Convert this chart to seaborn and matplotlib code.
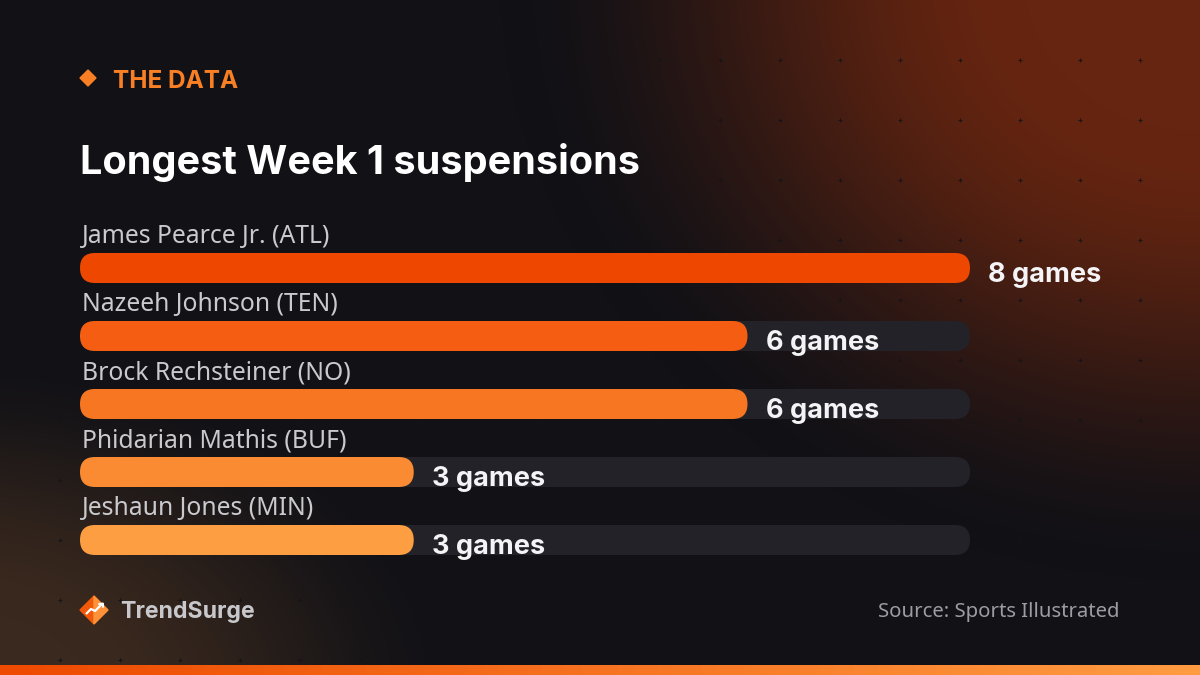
import numpy as np
import pandas as pd
import matplotlib
matplotlib.use("Agg")
import matplotlib.pyplot as plt
import seaborn as sns
from matplotlib.patches import FancyBboxPatch, Polygon

# data
players = ["James Pearce Jr. (ATL)", "Nazeeh Johnson (TEN)", "Brock Rechsteiner (NO)",
           "Phidarian Mathis (BUF)", "Jeshaun Jones (MIN)"]
games = [8, 6, 6, 3, 3]
value_labels = ["8 games", "6 games", "6 games", "3 games", "3 games"]
bar_colors = ["#EE4700", "#F55E12", "#F77622", "#FA8B32", "#FD9E42"]
max_games = 8

title = "Longest Week 1 suspensions"
kicker = "THE DATA"
brand = "TrendSurge"
source = "Source: Sports Illustrated"

W, H = 1200, 675
sns.set_theme(style="white")
plt.rcParams["font.family"] = ["Noto Sans", "DejaVu Sans"]
BOLD = ["Inter", "DejaVu Sans"]

fig = plt.figure(figsize=(W / 100, H / 100), dpi=100)


def smooth(t):
    t = np.clip(t, 0, 1)
    return t * t * (3 - 2 * t)


# background
bg = fig.add_axes([0, 0, 1, 1])
yy, xx = np.mgrid[0:H, 0:W]
base = np.array([0x11, 0x11, 0x16]) / 255
glow = np.array([0x66, 0x25, 0x10]) / 255
warm = np.array([0x3A, 0x29, 0x1E]) / 255
d1 = np.sqrt(((xx - 1200) / 700.0) ** 2 + ((yy + 20) / 600.0) ** 2)
w1 = smooth((1.0 - d1) / 0.75)
d2 = np.sqrt(((xx + 40) / 520.0) ** 2 + ((yy - 700) / 360.0) ** 2)
w2 = smooth((1.0 - d2) / 0.75)
img = base[None, None, :] * np.ones((H, W, 1))
img = img + (glow - base)[None, None, :] * w1[..., None]
img = img + (warm - base)[None, None, :] * w2[..., None]
img = np.clip(img, 0, 1)
bg.imshow(img, extent=[0, W, H, 0], aspect="auto", zorder=0)
gx, gy = np.meshgrid(np.arange(60, W, 60), np.arange(60, H, 60))
bg.scatter(gx.ravel(), gy.ravel(), marker="+", s=12, linewidths=0.8,
           color="#141418", alpha=0.9, zorder=1)
# bottom accent strip
strip = np.linspace(0, 1, W)
c0 = np.array([0xEE, 0x4A, 0x00]) / 255
c1 = np.array([0xFF, 0x9C, 0x42]) / 255
strip_img = (c0[None, :] * (1 - strip[:, None]) + c1[None, :] * strip[:, None])[None, :, :]
bg.imshow(strip_img, extent=[0, W, H, H - 10], aspect="auto", zorder=2)
# kicker diamond
bg.add_patch(Polygon([[88, 70], [96, 78], [88, 86], [80, 78]], closed=True,
                     color="#F97F24", zorder=3))
# logo
bg.add_patch(Polygon([[94, 596], [80, 610], [94, 624]], closed=True, color="#F0580A", zorder=3))
bg.add_patch(Polygon([[94, 596], [108, 610], [94, 624]], closed=True, color="#FF9238", zorder=3))
bg.plot([86, 91, 95, 102], [614, 609, 611, 604], color="white", lw=1.6, zorder=4,
        solid_capstyle="butt")
bg.plot([99, 103, 103], [604, 603.5, 607], color="white", lw=1.4, zorder=4)
bg.set_xlim(0, W)
bg.set_ylim(H, 0)
bg.axis("off")

# bar axes: 80..970 px wide, rows every 68 px
row = 68
top_px = 268 - row / 2
bot_px = 540 + row / 2
ax = fig.add_axes([80 / W, (H - bot_px) / H, 890 / W, (bot_px - top_px) / H])
ax.patch.set_alpha(0)

df = pd.DataFrame({"player": players, "games": games})
bar_h = 30 / row
sns.barplot(data=df, y="player", x=[max_games] * len(players), orient="h",
            color="#222228", width=bar_h, ax=ax, saturation=1)
sns.barplot(data=df, y="player", x="games", hue="player", palette=bar_colors,
            orient="h", width=bar_h, ax=ax, saturation=1, legend=False)
ax.set_xlim(0, max_games)
ax.set_ylim(len(players) - 0.5, -0.5)

sx = 890 / max_games
r = 15 / sx
aspect = sx / row
for p in list(ax.patches):
    x0, y0 = p.get_x(), p.get_y()
    w, h = p.get_width(), p.get_height()
    fc = p.get_facecolor()
    z = p.get_zorder()
    p.remove()
    ax.add_patch(FancyBboxPatch((x0, y0), w, h,
                                boxstyle=f"round,pad=0,rounding_size={r}",
                                mutation_aspect=aspect, facecolor=fc,
                                edgecolor="none", zorder=z))

for i, (name, v, lab) in enumerate(zip(players, games, value_labels)):
    ax.text(0.02, i - 0.46, name, color="#C9C9CE", fontsize=17.8,
            va="center", ha="left", clip_on=False)
    ax.text(v + 18 / sx, i + 0.1, lab, color="#F4F4F6", fontsize=19.5,
            fontweight="bold", family=BOLD, va="center", ha="left", clip_on=False)

ax.set_xlabel("")
ax.set_ylabel("")
ax.set_xticks([])
ax.set_yticks([])
sns.despine(ax=ax, left=True, bottom=True)

# texts
fig.text(113 / W, 1 - 81 / H, kicker, color="#F97F24", fontsize=17.5,
         fontweight="bold", family=BOLD, va="center", ha="left")
fig.text(80 / W, 1 - 162 / H, title, color="white", fontsize=28.5,
         fontweight="bold", family=BOLD, va="center", ha="left")
fig.text(120 / W, 1 - 612 / H, brand, color="#C8C8CC", fontsize=16.6,
         fontweight="bold", family=BOLD, va="center", ha="left")
fig.text(1119 / W, 1 - 612 / H, source, color="#9C9CA2", fontsize=14.6,
         va="center", ha="right")

fig.savefig("out.png", dpi=100, facecolor="#111116")
